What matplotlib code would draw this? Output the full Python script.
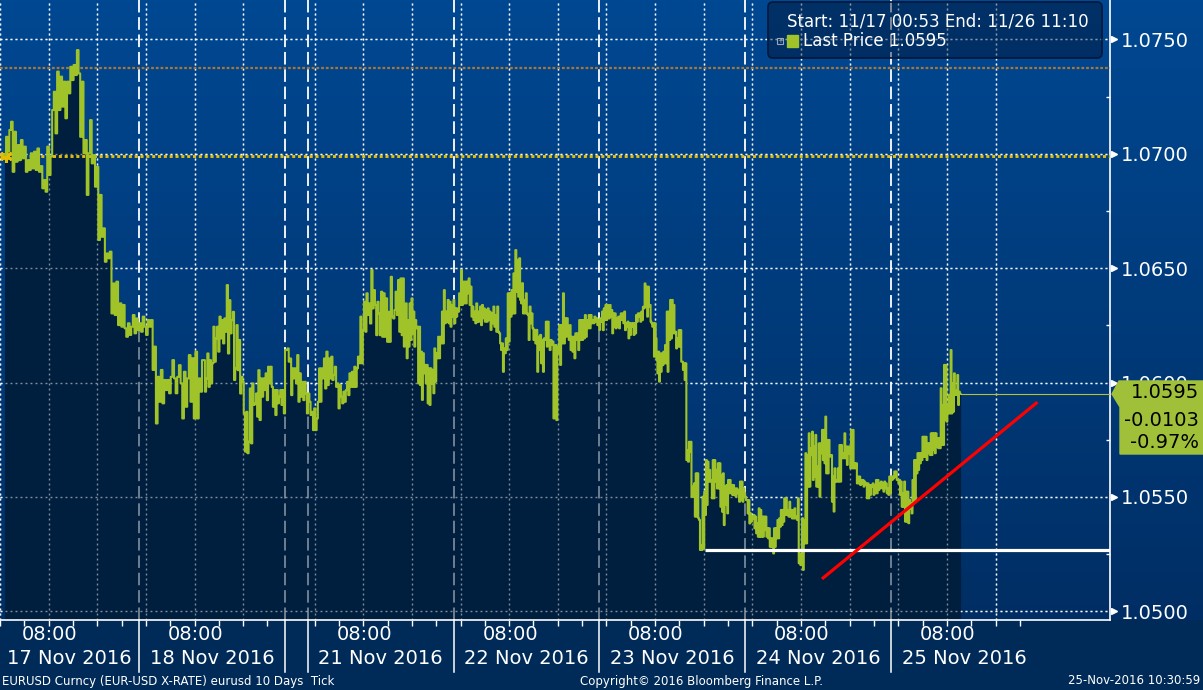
import numpy as np
import matplotlib
matplotlib.use("Agg")
import matplotlib.pyplot as plt
import matplotlib.transforms as mtrans
from matplotlib.patches import Polygon, FancyBboxPatch, Rectangle

plt.rcParams['font.family'] = ['DejaVu Sans']
plt.rcParams['lines.scale_dashes'] = False

# ---------------- data ----------------
# EURUSD tick path (price levels), in five consecutive time blocks
seg_a = [1.06994, 1.07074, 1.07009, 1.07104, 1.07140, 1.06921, 1.07096, 1.06965, 1.07038, 1.06972, 1.07060, 1.06980,
         1.07031, 1.06921, 1.06972, 1.06929, 1.07002, 1.06936, 1.07009, 1.06929, 1.07023, 1.06921, 1.06946, 1.06849,
         1.06885, 1.06834, 1.07031, 1.06907, 1.06987, 1.07191, 1.07271, 1.07089, 1.07359, 1.07191, 1.07337, 1.07206,
         1.07315, 1.07155, 1.07315, 1.07264, 1.07380, 1.07322, 1.07388, 1.07344, 1.07453, 1.07351, 1.07074, 1.07315,
         1.07002, 1.07060, 1.06820, 1.07002, 1.07147, 1.06958, 1.06994, 1.06856, 1.06943, 1.06623, 1.06820, 1.06637,
         1.06674, 1.06528, 1.06564, 1.06543, 1.06572, 1.06302, 1.06433, 1.06295, 1.06441, 1.06251, 1.06346, 1.06244,
         1.06339, 1.06237, 1.06200, 1.06259, 1.06208, 1.06244, 1.06295, 1.06215, 1.06280, 1.06229, 1.06259, 1.06222,
         1.06288, 1.06244, 1.06208, 1.06273, 1.06244, 1.06273, 1.06055, 1.06157, 1.05821, 1.06025, 1.05916, 1.06055,
         1.05909, 1.06011, 1.05967, 1.06011, 1.05953, 1.06025, 1.06098, 1.06018, 1.05953, 1.06025, 1.06076, 1.05996,
         1.05843, 1.06047, 1.05894, 1.06018, 1.06120, 1.05916, 1.06106, 1.05843, 1.06135, 1.05843, 1.06018, 1.05960,
         1.06098]
seg_b = [1.06098, 1.05960, 1.06018, 1.06127, 1.05981, 1.06098, 1.05996, 1.06084, 1.06244, 1.06091, 1.06193, 1.06244,
         1.06135, 1.06288, 1.06193, 1.06273, 1.06171, 1.06280, 1.06222, 1.06426, 1.06127, 1.06360, 1.06215, 1.06273,
         1.06309, 1.06011, 1.06062, 1.06251, 1.06054, 1.06186, 1.05952, 1.06025, 1.06003, 1.05865, 1.05698, 1.05872,
         1.05691, 1.05741, 1.05974, 1.05734, 1.05996, 1.05902, 1.05909, 1.05952, 1.05851, 1.06054, 1.05836, 1.06018,
         1.05938, 1.06018, 1.05967, 1.06040, 1.05923, 1.06069, 1.05996, 1.06069, 1.05981, 1.05894, 1.05967, 1.05858,
         1.05967, 1.05909, 1.05938, 1.05967, 1.05902, 1.05967, 1.05865, 1.06142, 1.06142, 1.06149, 1.06091, 1.06105,
         1.05945, 1.06062, 1.06018, 1.06062, 1.05996, 1.06120, 1.05916, 1.06040, 1.05938, 1.06003, 1.05923, 1.06003,
         1.05952, 1.05865, 1.05952, 1.05916, 1.05858, 1.05872, 1.05792, 1.05887, 1.05792, 1.05843, 1.05916, 1.06062,
         1.05916, 1.06062, 1.06018, 1.06105, 1.05974, 1.06135, 1.05989, 1.06105, 1.06018, 1.06113, 1.06011, 1.06033,
         1.06069, 1.05981, 1.05996, 1.05887, 1.05989, 1.05938, 1.05909, 1.05960, 1.05916, 1.05967, 1.06003, 1.05945,
         1.06040, 1.05981, 1.06047, 1.05981, 1.06069, 1.05981, 1.06062, 1.06113, 1.06084, 1.06288, 1.06084, 1.06229,
         1.06353, 1.06222, 1.06390, 1.06295, 1.06346, 1.06258, 1.06492, 1.06324, 1.06404, 1.06339, 1.06207, 1.06353,
         1.06302, 1.06207, 1.06397, 1.06200, 1.06390, 1.06200, 1.06368, 1.06178, 1.06309, 1.06178, 1.06462, 1.06288,
         1.06280, 1.06317, 1.06397, 1.06295, 1.06448, 1.06222, 1.06455, 1.06207]
seg_c = [1.06455, 1.06157, 1.06251, 1.06346, 1.06106, 1.06273, 1.06157, 1.06346, 1.06186, 1.06368, 1.06215, 1.06310,
         1.06157, 1.06273, 1.06237, 1.06244, 1.05996, 1.06244, 1.05989, 1.06135, 1.05924, 1.06128, 1.06040, 1.06077,
         1.05996, 1.06077, 1.05909, 1.06062, 1.05902, 1.06062, 1.05996, 1.06055, 1.05953, 1.06149, 1.06004, 1.06128,
         1.06106, 1.06200, 1.06106, 1.06200, 1.06171, 1.06310, 1.06171, 1.06404, 1.06259, 1.06310, 1.06266, 1.06361,
         1.06259, 1.06353, 1.06244, 1.06339, 1.06288, 1.06361, 1.06259, 1.06324, 1.06288, 1.06324, 1.06310, 1.06390,
         1.06339, 1.06492, 1.06339, 1.06441, 1.06346, 1.06441, 1.06346, 1.06441, 1.06390, 1.06455, 1.06339, 1.06419,
         1.06288, 1.06332, 1.06273, 1.06310, 1.06259, 1.06346, 1.06266, 1.06310, 1.06266, 1.06332, 1.06251, 1.06339,
         1.06281, 1.06324, 1.06266, 1.06317, 1.06266, 1.06324, 1.06273, 1.06310, 1.06230, 1.06302, 1.06259, 1.06332,
         1.06244, 1.06295, 1.06222, 1.06332, 1.06222, 1.06215, 1.06171, 1.06142, 1.06171, 1.06047, 1.06149, 1.06128,
         1.06193, 1.06142, 1.06390, 1.06179, 1.06390, 1.06288, 1.06404, 1.06302, 1.06477, 1.06302, 1.06579, 1.06397,
         1.06536, 1.06375, 1.06543, 1.06361, 1.06346, 1.06434, 1.06302, 1.06361, 1.06302, 1.06390, 1.06302, 1.06295,
         1.06186, 1.06332, 1.06259, 1.06302, 1.06237, 1.06186, 1.06230, 1.06171, 1.06230, 1.06047, 1.06200, 1.06142,
         1.06208, 1.06084, 1.06186, 1.06047, 1.06193, 1.06186, 1.06266, 1.06157, 1.06266, 1.06186, 1.06142, 1.06186,
         1.06164, 1.06179, 1.05843, 1.05960, 1.06164, 1.05836, 1.06157, 1.06128, 1.06251, 1.06077, 1.06251, 1.06171,
         1.06390, 1.06171, 1.06281, 1.06200, 1.06281, 1.06237, 1.06186, 1.06251, 1.06142, 1.06200, 1.06135, 1.06200,
         1.06106, 1.06215, 1.06186, 1.06215, 1.06142, 1.06273, 1.06186, 1.06273, 1.06186, 1.06273, 1.06193, 1.06295,
         1.06200, 1.06273, 1.06237, 1.06295, 1.06237, 1.06295, 1.06259, 1.06273, 1.06259, 1.06288, 1.06266, 1.06281,
         1.06251, 1.06273, 1.06230, 1.06281, 1.06266]
seg_d = [1.06310, 1.06229, 1.06324, 1.06273, 1.06339, 1.06273, 1.06339, 1.06295, 1.06280, 1.06339, 1.06288, 1.06317,
         1.06215, 1.06302, 1.06244, 1.06302, 1.06237, 1.06280, 1.06244, 1.06288, 1.06237, 1.06288, 1.06302, 1.06273,
         1.06302, 1.06259, 1.06310, 1.06229, 1.06259, 1.06244, 1.06266, 1.06193, 1.06259, 1.06208, 1.06259, 1.06244,
         1.06259, 1.06208, 1.06259, 1.06215, 1.06295, 1.06266, 1.06302, 1.06288, 1.06302, 1.06266, 1.06310, 1.06273,
         1.06331, 1.06324, 1.06433, 1.06331, 1.06419, 1.06288, 1.06419, 1.06331, 1.06339, 1.06266, 1.06259, 1.06244,
         1.06259, 1.06113, 1.06259, 1.06193, 1.06098, 1.06040, 1.06135, 1.06004, 1.06127, 1.06047, 1.06127, 1.06076,
         1.06135, 1.06084, 1.06164, 1.06084, 1.06310, 1.06047, 1.06310, 1.06186, 1.06361, 1.06193, 1.06361, 1.06215,
         1.06339, 1.06215, 1.06222, 1.06149, 1.06193, 1.06157, 1.06229, 1.06157, 1.06229, 1.06091, 1.06091, 1.06055,
         1.06084, 1.06011, 1.06084, 1.05661, 1.05705, 1.05654, 1.05741, 1.05698, 1.05741, 1.05501, 1.05545, 1.05501,
         1.05559, 1.05414, 1.05603, 1.05414, 1.05603, 1.05406, 1.05399, 1.05268, 1.05290, 1.05268, 1.05501, 1.05275,
         1.05523, 1.05421, 1.05661, 1.05465, 1.05654, 1.05567, 1.05618, 1.05567, 1.05574, 1.05494, 1.05661, 1.05494,
         1.05661, 1.05567, 1.05618, 1.05537, 1.05647, 1.05537, 1.05647, 1.05457, 1.05596, 1.05435, 1.05603, 1.05377,
         1.05545, 1.05465, 1.05552, 1.05428, 1.05574, 1.05516, 1.05574, 1.05516, 1.05552, 1.05508, 1.05552, 1.05508,
         1.05537, 1.05501, 1.05537, 1.05516, 1.05530, 1.05479, 1.05567, 1.05486, 1.05567, 1.05479, 1.05537, 1.05516,
         1.05501, 1.05486, 1.05486, 1.05428, 1.05486, 1.05384, 1.05428, 1.05392, 1.05414, 1.05406, 1.05421, 1.05363,
         1.05414, 1.05341, 1.05384, 1.05326, 1.05450, 1.05326, 1.05443, 1.05326, 1.05414, 1.05326, 1.05414, 1.05355,
         1.05414, 1.05326, 1.05363, 1.05319, 1.05363, 1.05282, 1.05319, 1.05282, 1.05319, 1.05253, 1.05363, 1.05282,
         1.05363, 1.05319, 1.05399, 1.05319, 1.05406, 1.05370, 1.05443, 1.05377, 1.05443, 1.05392, 1.05494, 1.05421,
         1.05494, 1.05421, 1.05443, 1.05414, 1.05479, 1.05414, 1.05443, 1.05406, 1.05443, 1.05406, 1.05450, 1.05406,
         1.05414, 1.05399, 1.05494, 1.05210, 1.05253, 1.05202]
seg_e = [1.05217, 1.05407, 1.05181, 1.05399, 1.05297, 1.05691, 1.05297, 1.05683, 1.05545, 1.05778, 1.05545, 1.05713,
         1.05683, 1.05785, 1.05574, 1.05720, 1.05589, 1.05771, 1.05545, 1.05632, 1.05545, 1.05734, 1.05501, 1.05734,
         1.05691, 1.05793, 1.05661, 1.05793, 1.05647, 1.05851, 1.05603, 1.05749, 1.05603, 1.05749, 1.05683, 1.05676,
         1.05683, 1.05479, 1.05589, 1.05436, 1.05625, 1.05567, 1.05574, 1.05567, 1.05625, 1.05567, 1.05727, 1.05567,
         1.05727, 1.05669, 1.05691, 1.05669, 1.05778, 1.05669, 1.05720, 1.05640, 1.05720, 1.05691, 1.05720, 1.05625,
         1.05793, 1.05625, 1.05793, 1.05625, 1.05647, 1.05625, 1.05647, 1.05559, 1.05589, 1.05559, 1.05589, 1.05552,
         1.05574, 1.05559, 1.05574, 1.05545, 1.05567, 1.05552, 1.05559, 1.05494, 1.05559, 1.05494, 1.05552, 1.05509,
         1.05552, 1.05545, 1.05559, 1.05509, 1.05552, 1.05516, 1.05574, 1.05516, 1.05574, 1.05530, 1.05559, 1.05538,
         1.05567, 1.05538, 1.05559, 1.05523, 1.05567, 1.05538, 1.05559, 1.05516, 1.05538, 1.05509, 1.05589, 1.05516,
         1.05589, 1.05574, 1.05589, 1.05581, 1.05611, 1.05589, 1.05611, 1.05574, 1.05574, 1.05559, 1.05574, 1.05509,
         1.05567, 1.05457, 1.05516, 1.05457, 1.05567, 1.05392, 1.05523, 1.05392, 1.05523, 1.05385, 1.05487, 1.05450,
         1.05472, 1.05428, 1.05574, 1.05472, 1.05661, 1.05487, 1.05661, 1.05603, 1.05691, 1.05618, 1.05691, 1.05647,
         1.05691, 1.05661, 1.05763, 1.05676, 1.05763, 1.05676, 1.05763, 1.05661, 1.05734, 1.05691, 1.05734, 1.05683,
         1.05778, 1.05683, 1.05778, 1.05705, 1.05778, 1.05691, 1.05778, 1.05720, 1.05756, 1.05713, 1.05756, 1.05713,
         1.05975, 1.05727, 1.05902, 1.05727, 1.06077, 1.05836, 1.06077, 1.05829, 1.05902, 1.05865, 1.05946, 1.05865,
         1.06142, 1.05865, 1.05997, 1.05873, 1.06040, 1.05946, 1.05967, 1.05946, 1.06033, 1.05902, 1.05960, 1.05950]

# chart time in hours from 17 Nov 00:00 (weekend compressed); block boundaries
seg_edges = [1.88, 34.65, 67.42, 100.18, 132.95, 159.16]

day_starts = [0.0, 24.0, 51.75, 75.75, 99.75, 123.75, 147.75]
fri_close = 48.0
day_labels = ['17 Nov 2016', '18 Nov 2016', '21 Nov 2016', '22 Nov 2016',
              '23 Nov 2016', '24 Nov 2016', '25 Nov 2016']
hour_label = '08:00'

price_ticks = [1.0500, 1.0550, 1.0600, 1.0650, 1.0700, 1.0750]
start_ref = 1.06988        # yellow dotted reference
high_ref = 1.07375         # orange dotted reference
support_level = 1.05268    # white drawn line
support_start = 117.05
trend_t = [136.55, 171.6]  # red drawn trend line
trend_p = [1.05146, 1.05910]

last_price = 1.0595
net_change = -0.0103
pct_change = -0.97
legend_range = 'Start: 11/17 00:53 End: 11/26 11:10'

# ---------------- layout / style ----------------
W, H = 1203, 690
XMIN, XMAX = 1.884, 183.73
YMIN, YMAX = 1.04962, 1.07672
price_col = '#a0c32a'
fill_col = '#001f3e'

fig = plt.figure(figsize=(W / 100, H / 100), dpi=100)
fig.patch.set_facecolor('#002b59')

bg = fig.add_axes([0, 0, 1, 1], zorder=-10)
bg.set_xlim(0, 1)
bg.set_ylim(0, 1)
bg.axis('off')
top = np.array([0, 72, 146]) / 255
bot = np.array([0, 46, 100]) / 255
g = np.linspace(0, 1, 256)[:, None, None]
img = top[None, None, :] + (bot - top)[None, None, :] * g
bg.imshow(img, aspect='auto', extent=[0, 1, 70 / H, 1], origin='upper')
bg.add_patch(Rectangle((0, 0), 1, 70 / H, color='#002b59', lw=0))

ax = fig.add_axes([0, 70 / H, 1110 / W, 620 / H])
ax.set_facecolor('none')
ax.set_xlim(XMIN, XMAX)
ax.set_ylim(YMIN, YMAX)

tx = mtrans.blended_transform_factory(ax.transData, ax.transAxes)
ty = mtrans.blended_transform_factory(ax.transAxes, ax.transData)

# price path
segs = [seg_a, seg_b, seg_c, seg_d, seg_e]
t_all, p_all = [], []
for i, s in enumerate(segs):
    t_all.extend(np.linspace(seg_edges[i], seg_edges[i + 1], len(s), endpoint=False))
    p_all.extend(s)
t_all.append(seg_edges[-1])
p_all.append(seg_e[-1])
t_all = np.array(t_all)
p_all = np.array(p_all)

# grid lines (white on background, greyish over fill)
dot = (0, (1.4, 2.2))
dash = (0, (9, 3.5))
vdots = [d + o for d in day_starts for o in (1.15, 9.15, 17.15) if d + o <= 165.0]
vdots = [v for v in vdots if not (fri_close < v < day_starts[2])]
bounds = [24.0, fri_close] + day_starts[2:]
for alpha, z in ((1.0, 1), (0.5, 2.5)):
    for v in price_ticks:
        ax.axhline(v, color='white', lw=1.0, ls=dot, alpha=alpha, zorder=z)
    for v in vdots:
        ax.axvline(v, color='white', lw=1.0, ls=dot, alpha=alpha, zorder=z)
    for v in bounds:
        ax.axvline(v, color='white', lw=1.2, ls=dash, alpha=alpha, zorder=z)

ax.fill_between(t_all, p_all, YMIN, step='post', color=fill_col, lw=0, zorder=2)

ax.axhline(high_ref, color='#a8753a', lw=1.6, ls=(0, (2.0, 1.4)), zorder=3)
ax.axhline(start_ref, color='#e6bd00', lw=2.1, ls=(0, (2.2, 2.0)), zorder=3)
ax.plot([XMIN + 0.3], [start_ref], marker=(6, 2, 0), ms=9, mew=2.2, color='#e6bd00', zorder=3)

ax.plot(t_all, p_all, drawstyle='steps-post', color=price_col, lw=1.5, zorder=4)
ax.plot([seg_edges[-1], XMAX], [last_price, last_price], color='#b4bf3c', lw=0.8, zorder=4)

ax.plot([support_start, XMAX], [support_level, support_level], color='white', lw=2.3,
        solid_capstyle='butt', zorder=5)
ax.plot(trend_t, trend_p, color='#ff0000', lw=2.3, zorder=5)

# spines & ticks
for s in ('left', 'top'):
    ax.spines[s].set_visible(False)
for s in ('right', 'bottom'):
    ax.spines[s].set_color('white')
    ax.spines[s].set_linewidth(1.2)
ax.yaxis.tick_right()
ax.set_yticks(price_ticks)
ax.set_yticklabels([f'{v:.4f}' for v in price_ticks])
ax.set_yticks(np.arange(1.0500, 1.07501, 0.0025), minor=True)
ax.tick_params(axis='y', which='major', length=0, pad=7.5, labelsize=14, labelcolor='white')
ax.tick_params(axis='y', which='minor', direction='in', length=3, width=1, color='white')
ax.plot([1.004] * len(price_ticks), price_ticks, transform=ty, ls='none', marker='>', ms=5,
        color='white', clip_on=False, zorder=6)

ax.set_xticks([])
minor_x = [d + 1.15 + 4 * k for d in day_starts for k in range(6)]
minor_x = [v for v in minor_x if v <= 169 and not (fri_close < v < day_starts[2])]
ax.set_xticks(minor_x, minor=True)
ax.tick_params(axis='x', which='minor', direction='out', length=4, width=1, color='white',
               labelbottom=False)

# bottom axis labels and separators
for v in bounds:
    ax.plot([v, v], [0, -52 / 620], transform=tx, color='white', lw=1.1, clip_on=False)
for i, d in enumerate(day_starts):
    ax.text(d + 9.3, -15 / 620, hour_label, transform=tx, ha='center', va='center',
            fontsize=14, color='white', clip_on=False)
    if i == 0:
        ax.text(7 / 1110, -38 / 620, day_labels[i], transform=ax.transAxes, ha='left',
                va='center', fontsize=14, color='white')
    else:
        ax.text(d + 12, -38 / 620, day_labels[i], transform=tx, ha='center', va='center',
                fontsize=14, color='white', clip_on=False)

# legend box
ident = mtrans.IdentityTransform()
lg = FancyBboxPatch((768, H - 58), 334, 56, boxstyle='round,pad=0,rounding_size=5',
                    transform=ident, facecolor=(0, 0.08, 0.2, 0.45), edgecolor='#00183a', lw=1.2,
                    zorder=7)
fig.patches.append(lg)
fig.text(787 / W, (H - 21) / H, legend_range, fontsize=12, color='white', va='center', zorder=8)
fig.patches.append(Rectangle((787, H - 47), 11, 12, transform=ident, color=price_col, zorder=8))
fig.patches.append(Rectangle((777, H - 44), 6, 6, transform=ident, facecolor='none',
                             edgecolor='#9aa8b8', lw=0.8, zorder=8))
fig.text(780 / W, (H - 41) / H, '+', fontsize=5, color='#9aa8b8', ha='center', va='center', zorder=8)
fig.text(803 / W, (H - 41) / H, f'Last Price {last_price:.4f}', fontsize=12, color='white',
         va='center', zorder=8)

# last price tag
tag = Polygon([(1112, H - 394), (1119, H - 381), (1203, H - 381), (1203, H - 454),
               (1120, H - 454), (1120, H - 407)], closed=True, transform=ident,
              facecolor='#a0c03a', edgecolor='#a0c03a', zorder=7)
fig.patches.append(tag)
for yy, s in ((393, f'{last_price:.4f}'), (420, f'{net_change:.4f}'), (442, f'{pct_change:.2f}%')):
    fig.text(1199 / W, (H - yy) / H, s, fontsize=14, color='black', ha='right', va='center',
             zorder=8)

# footer
fy = (H - 681) / H
fig.text(2 / W, fy, 'EURUSD Curncy (EUR-USD X-RATE) eurusd 10 Days  Tick', fontsize=8.5,
         color='white', va='center')
fig.text(702 / W, fy, 'Copyright\u00a9 2016 Bloomberg Finance L.P.', fontsize=8.5,
         color='white', ha='center', va='center')
fig.text(1200 / W, fy, '25-Nov-2016 10:30:59', fontsize=8.5, color='white', ha='right',
         va='center')

fig.savefig('out.png', dpi=100, facecolor=fig.get_facecolor())
